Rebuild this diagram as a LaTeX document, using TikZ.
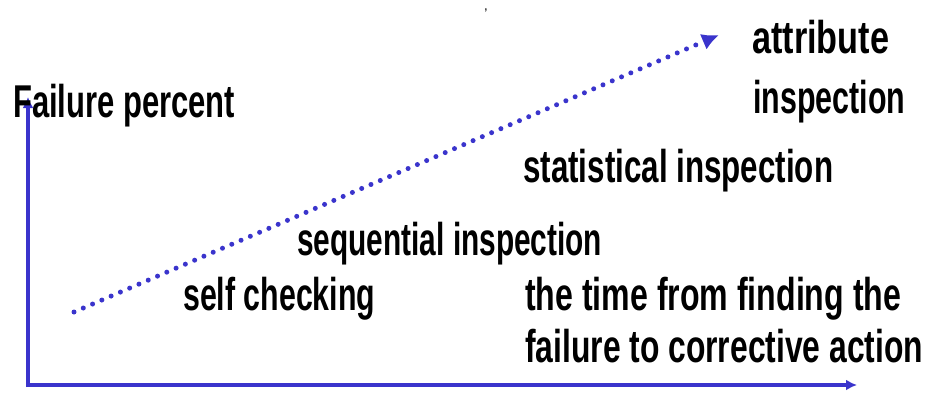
\documentclass[tikz,border=0pt]{standalone}
\usepackage{fontspec}
\setmainfont{Liberation Sans}
\usetikzlibrary{arrows.meta}
\definecolor{axisblue}{RGB}{58,52,204}
\newcommand{\fitw}[2]{\resizebox{#1}{\height}{#2}}
\begin{document}
\begin{tikzpicture}[x=1pt,y=-1pt,
  lbl/.style={anchor=base west,inner sep=0pt,font=\fontsize{46}{50}\selectfont\bfseries},
  axis/.style={draw=axisblue,line width=4pt,-{Latex[length=11pt,width=11pt]}},
  trend/.style={draw=axisblue,line width=5pt,line cap=round,dash pattern=on 0pt off 10.1pt,
    -{Latex[length=17pt,width=17pt]}}]
\useasboundingbox (0,0) rectangle (929,392);
% axes
\coordinate (origin) at (28,385);
\coordinate (ytop) at (28,97);
\coordinate (xend) at (857,385);
\coordinate (xstart) at (26,385);
\draw[axis] (xstart) -- (xend);
\draw[axis] (28,387) -- (ytop);
% trend
\coordinate (tstart) at (74,312);
\coordinate (tend) at (719,35);
\draw[trend] (tstart) -- (tend);
% labels
\node[lbl] (fail) at (13,117) {\fitw{222pt}{Failure percent}};
\node[lbl] (attr) at (752,53) {\fitw{137pt}{attribute}};
\node[lbl] (insp) at (753,113) {\fitw{152pt}{inspection}};
\node[lbl] (stat) at (523,182) {\fitw{310pt}{statistical inspection}};
\node[lbl] (seq) at (297,255) {\fitw{305pt}{sequential inspection}};
\node[lbl] (self) at (183,310) {\fitw{192pt}{self checking}};
\node[lbl] (time1) at (525,310) {\fitw{376pt}{the time from finding the}};
\node[lbl] (time2) at (525,362) {\fitw{398pt}{failure to corrective action}};
\node[anchor=base,inner sep=0pt,font=\fontsize{14}{14}\selectfont] (mark) at (486,18) {'};
\end{tikzpicture}
\end{document}
